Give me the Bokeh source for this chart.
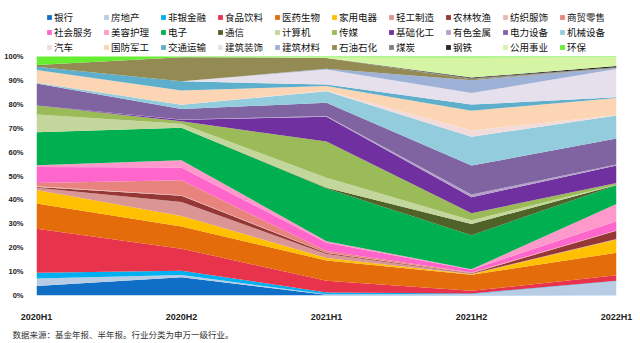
from bokeh.plotting import figure
from bokeh.models import ColumnDataSource, FixedTicker, Legend, LegendItem, Title
from bokeh.embed import file_html
from bokeh.resources import INLINE

periods = ["2020H1", "2020H2", "2021H1", "2021H2", "2022H1"]

industries = ["银行", "房地产", "非银金融", "食品饮料", "医药生物", "家用电器", "轻工制造", "农林牧渔", "纺织服饰", "商贸零售",
              "社会服务", "美容护理", "电子", "通信", "计算机", "传媒", "基础化工", "有色金属", "电力设备", "机械设备",
              "汽车", "国防军工", "交通运输", "建筑装饰", "建筑材料", "石油石化", "煤炭", "钢铁", "公用事业", "环保"]

bank       = [4.0, 7.6, 0.3, 0.3, 0.1]
realestate = [3.1, 1.0, 0.2, 0.3, 6.0]
nonbank    = [2.5, 1.8, 0.8, 0.3, 0.1]
food       = [18.4, 9.2, 4.9, 1.1, 2.3]
pharma     = [10.7, 9.3, 8.6, 6.8, 9.5]
appliance  = [5.6, 4.4, 1.1, 0.3, 5.6]
lightmfg   = [1.0, 5.8, 1.7, 0.2, 0.2]
agri       = [0.3, 2.6, 0.4, 0.2, 3.5]
textile    = [0.3, 0.2, 0.1, 0.1, 0.1]
retail     = [1.4, 6.3, 0.7, 0.2, 0.1]
social     = [6.7, 5.4, 3.5, 1.2, 3.8]
beauty     = [0.7, 3.0, 0.7, 0.2, 7.2]
electronics= [13.9, 13.6, 22.3, 14.5, 8.0]
telecom    = [0.0, 0.0, 0.3, 4.8, 0.1]
computer   = [7.4, 1.7, 4.2, 1.6, 0.1]
media      = [3.8, 1.0, 15.3, 3.0, 0.7]
chemicals  = [0.0, 0.6, 10.5, 6.8, 7.4]
metals     = [0.0, 0.1, 0.3, 1.2, 0.4]
powerequip = [9.3, 4.4, 5.6, 12.3, 10.9]
machinery  = [0.3, 1.8, 4.9, 12.3, 9.7]
auto       = [0.0, 0.0, 0.2, 2.6, 0.2]
defense    = [5.3, 6.0, 2.0, 8.5, 7.2]
transport  = [1.4, 3.8, 0.7, 2.6, 0.3]
construct  = [0.0, 0.0, 6.3, 4.9, 11.9]
buildmat   = [0.0, 0.0, 0.3, 5.5, 0.3]
petro      = [0.7, 10.1, 4.6, 0.4, 0.2]
coal       = [0.0, 0.0, 0.0, 0.4, 0.3]
steel      = [0.0, 0.0, 0.0, 0.3, 0.5]
utilities  = [0.0, 0.0, 0.3, 8.6, 3.8]
environ    = [3.6, 0.3, 0.3, 0.4, 0.2]

series = [bank, realestate, nonbank, food, pharma, appliance, lightmfg, agri, textile, retail,
          social, beauty, electronics, telecom, computer, media, chemicals, metals, powerequip, machinery,
          auto, defense, transport, construct, buildmat, petro, coal, steel, utilities, environ]

colors = ["#0F6FC6", "#B8CCE4", "#00B0F0", "#E8334D", "#E46C0A", "#FFC000", "#D99694", "#953735", "#E6B9B8", "#E8847D",
          "#FF66CC", "#FF99CC", "#00B050", "#4F6228", "#C3D69B", "#9BBB59", "#7030A0", "#B3A2C7", "#8064A2", "#93CDDD",
          "#F2DCDB", "#FCD5B5", "#5EAFCB", "#E6E0EC", "#9DB2D6", "#948A54", "#808080", "#262626", "#D5F5A5", "#66EE33"]

# 100% stacking: convert to shares per period
totals = [sum(s[i] for s in series) for i in range(len(periods))]
keys = [f"s{k}" for k in range(len(series))]
data = {"x": list(range(len(periods)))}
for k, s in zip(keys, series):
    data[k] = [v / t * 100 for v, t in zip(s, totals)]
source = ColumnDataSource(data)

# frame spans the whole top of the canvas; headroom above 100% holds the legend
FRAME_H = 295
PLOT_H = 239
p = figure(width=640, height=343, output_backend="svg", toolbar_location=None,
           x_range=(0, len(periods) - 1), y_range=(0, 100 * FRAME_H / PLOT_H),
           min_border_left=36, min_border_right=24, min_border_top=0, min_border_bottom=48)
p.outline_line_color = None
p.grid.visible = False
p.background_fill_color = "white"

renderers = p.varea_stack(stackers=keys, x="x", color=colors, source=source)

items = [LegendItem(label=name, renderers=[r]) for name, r in zip(industries, renderers)]
legend = Legend(items=items, orientation="horizontal", ncols=10, location="top_left",
                glyph_width=6, glyph_height=6, label_standoff=2, label_width=48, label_height=13,
                spacing=1, padding=0, margin=10, border_line_color=None, background_fill_alpha=0,
                label_text_font="Noto Sans CJK SC", label_text_font_size="9.5px", label_text_color="#111111")
p.add_layout(legend, "center")

cjk = "Noto Sans CJK SC"
p.xaxis.ticker = FixedTicker(ticks=list(range(len(periods))))
p.xaxis.major_label_overrides = {i: lab for i, lab in enumerate(periods)}
p.yaxis.ticker = FixedTicker(ticks=list(range(0, 101, 10)))
p.yaxis.major_label_overrides = {v: f"{v}%" for v in range(0, 101, 10)}
for ax in (p.xaxis, p.yaxis):
    ax.axis_line_color = None
    ax.major_tick_line_color = None
    ax.minor_tick_line_color = None
    ax.major_label_text_font = "Liberation Sans"
    ax.major_label_text_font_style = "bold"
    ax.major_label_text_color = "#222222"
p.xaxis.major_label_text_font_size = "9px"
p.yaxis.major_label_text_font_size = "7.5px"
p.xaxis.major_label_standoff = 10
p.yaxis.major_label_standoff = 7

src = Title(text="数据来源：基金年报、半年报。行业分类为申万一级行业。", align="left", offset=-24, standoff=2,
            text_font=cjk, text_font_size="8.5px", text_font_style="normal", text_color="#333333")
p.add_layout(src, "below")

open("out.html", "w").write(file_html(p, INLINE))
